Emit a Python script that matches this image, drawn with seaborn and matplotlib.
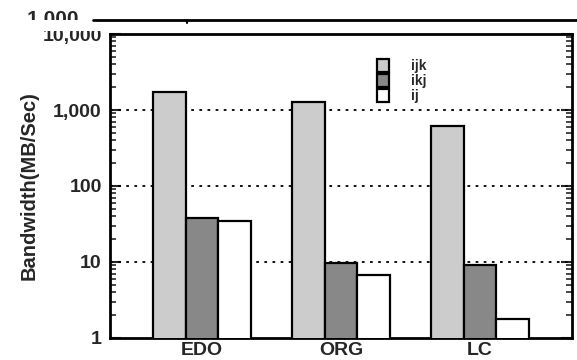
import numpy as np
import pandas as pd
import matplotlib
matplotlib.use("Agg")
import matplotlib.pyplot as plt
from matplotlib.lines import Line2D
from matplotlib.patches import Rectangle
from matplotlib.ticker import FixedLocator, LogLocator, NullFormatter
import seaborn as sns

# dati (MB/Sec, scala log)
categorie = ["EDO", "ORG", "LC"]
serie = ["ijk", "ikj", "ij"]
valori_ijk = [1730, 1280, 620]
valori_ikj = [38, 9.8, 9.1]
valori_ij = [35, 6.7, 1.8]
colori = ["#cccccc", "#888888", "#ffffff"]
tick_y = [1, 10, 100, 1000, 10000]
tick_y_label = ["1", "10", "100", "1,000", "10,000"]

righe = []
for nome, vals in zip(serie, [valori_ijk, valori_ikj, valori_ij]):
    for cat, v in zip(categorie, vals):
        righe.append({"cat": cat, "serie": nome, "bw": v})
df = pd.DataFrame(righe)

sns.set_style("white")
plt.rcParams['font.family'] = ['Liberation Sans', 'DejaVu Sans']

fig = plt.figure(figsize=(5.77, 3.6), dpi=100)
ax = fig.add_axes([110 / 577, 22 / 360, 462 / 577, 304 / 360])

sns.barplot(data=df, x="cat", y="bw", hue="serie", palette=colori,
            width=0.7, edgecolor="black", linewidth=1.6, ax=ax, zorder=3)

ax.set_yscale("log")
ax.set_ylim(1, 10000)
ax.set_xlim(-0.66, 2.66)

ax.yaxis.set_major_locator(FixedLocator(tick_y))
ax.set_yticklabels(tick_y_label, fontsize=14, fontweight="bold")
ax.yaxis.set_minor_locator(LogLocator(base=10, subs=np.arange(2, 10)))
ax.yaxis.set_minor_formatter(NullFormatter())
ax.tick_params(axis="y", which="major", direction="in", length=8, width=1.5,
               left=True, right=True, pad=6)
ax.tick_params(axis="y", which="minor", direction="in", length=4, width=1.2,
               left=True, right=True)
ax.tick_params(axis="x", length=0, pad=3)
for lab in ax.get_xticklabels():
    lab.set_fontweight("bold")
    lab.set_fontsize(14)

# griglia tratteggiata
for g in [10, 100, 1000]:
    ax.axhline(g, color="black", linestyle=(0, (1.5, 3)), linewidth=1.3, zorder=1)

for s in ax.spines.values():
    s.set_visible(True)
    s.set_color("black")
    s.set_linewidth(2)

ax.set_xlabel("")
ax.set_ylabel("Bandwidth(MB/Sec)", fontsize=14.5, fontweight="bold", labelpad=3)

leg = ax.legend(loc="upper left", bbox_to_anchor=(0.55, 0.96), frameon=False,
                handlelength=0.9, handleheight=1.1, labelspacing=0.05,
                handletextpad=1.6, fontsize=10)
for t in leg.get_texts():
    t.set_fontweight("bold")

# resto del grafico precedente, tagliato in alto
fig.text(27 / 577, 1 - 25 / 360, "1,000", fontsize=15, fontweight="bold", va="baseline")
fig.add_artist(Rectangle((0, 1 - 31 / 360), 1, 10.5 / 360, transform=fig.transFigure,
                         facecolor="white", edgecolor="none", zorder=5))
fig.add_artist(Line2D([93 / 577, 1], [1 - 19.5 / 360] * 2, color="black", lw=2,
                      transform=fig.transFigure, zorder=6))
fig.add_artist(Line2D([187 / 577] * 2, [1 - 19.5 / 360, 1 - 23 / 360], color="black", lw=1.5,
                      transform=fig.transFigure, zorder=6))

fig.savefig("out.png", dpi=100)
